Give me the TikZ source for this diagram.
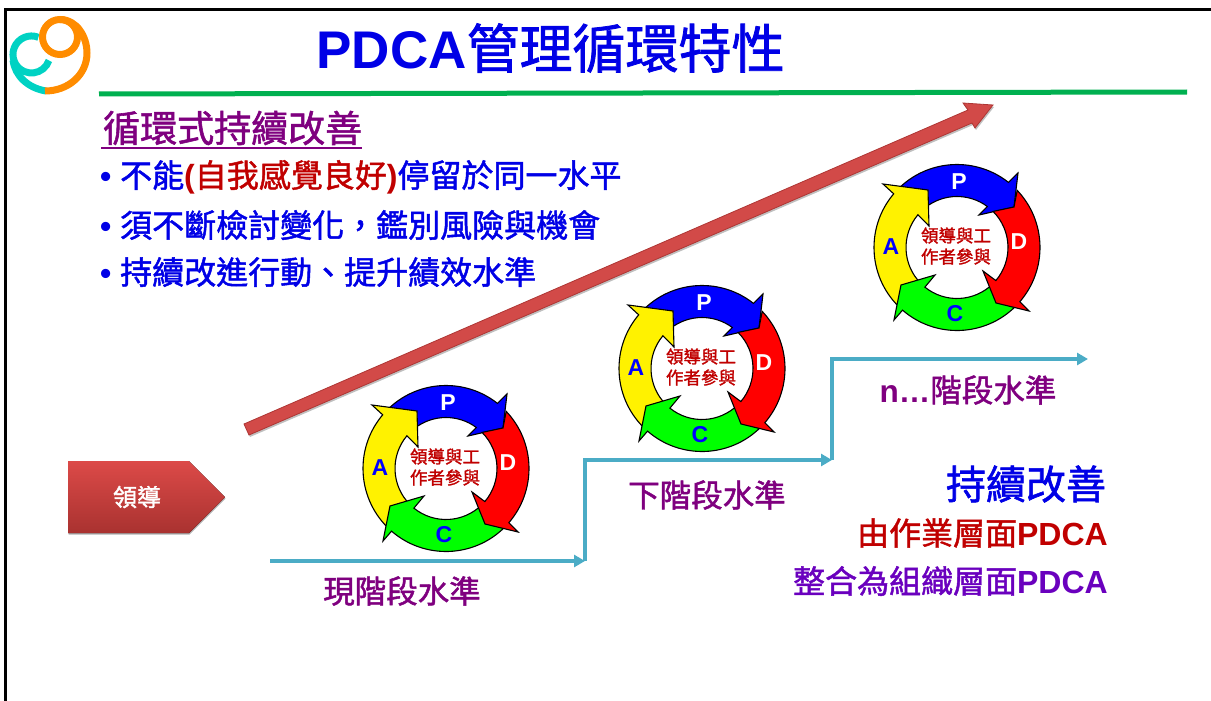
\documentclass[tikz,border=0pt]{standalone}
\usepackage{fontspec}
\setmainfont{Liberation Sans}
\newfontfamily\tcfont[FakeBold=1.5]{Noto Sans CJK TC}
\usetikzlibrary{arrows.meta,shadows}
\definecolor{titleblue}{HTML}{0000E6}
\definecolor{plum}{HTML}{7F007F}
\definecolor{darkred}{HTML}{C00000}
\definecolor{violet}{HTML}{6A00BE}
\definecolor{stepblue}{HTML}{4BACC6}
\definecolor{rulegreen}{HTML}{00B050}
\definecolor{logoteal}{HTML}{00D2C3}
\definecolor{logoorange}{HTML}{FF8C00}
\definecolor{boxtop}{HTML}{DC4A48}
\definecolor{boxbottom}{HTML}{A93230}
\definecolor{arrowred}{HTML}{D24A48}
\definecolor{arrowedge}{HTML}{AE3634}
\tikzset{
  ringpart/.style={draw=black, line width=1.1pt, line join=miter},
  ringletter/.style={font=\fontsize{23}{23}\selectfont\bfseries, inner sep=0pt},
  ringtext/.style={font=\fontsize{17.5}{21}\selectfont\tcfont, text=darkred, align=center, inner sep=0pt},
  stepline/.style={stepblue, line width=3.6pt, -{Triangle[length=11pt,width=12pt]}},
  levellabel/.style={font=\fontsize{31.5}{32}\selectfont\bfseries, text=plum, inner sep=0pt},
  bulletline/.style={font=\fontsize{32}{32}\selectfont\tcfont, text=titleblue, anchor=west, inner sep=0pt},
  logoline/.style={line width=7pt}
}
\newcommand{\bulletmark}{\makebox[20pt][l]{\rmfamily\bfseries •}}
\newcommand{\boldparen}[1]{{\rmfamily\bfseries #1}}
\begin{document}
\begin{tikzpicture}[x=1pt,y=-1pt]
  \useasboundingbox (0,0) rectangle (1211,701);
  \draw[black, line width=2.6pt] (5.5,701) -- (5.5,9.5) -- (1211,9.5);

  % logo
  \draw[logoteal, logoline] (38.4,37.3) arc[start angle=-68, end angle=-341, radius=18.5];
  \draw[logoteal, logoline] (13,60) .. controls (15,76) and (28,88) .. (46,91);
  \draw[logoorange, logoline] (60,37) circle [radius=17.5];
  \draw[logoorange, logoline] (60,19.5) .. controls (77,19.5) and (87,37) .. (87,53) .. controls (87,75) and (68,91) .. (45,91);

  % heading
  \node[font=\fontsize{53}{53}\selectfont\bfseries, text=titleblue, inner sep=0pt] (title) at (550.5,48) {PDCA{\mdseries\tcfont 管理循環特性}};
  \draw[rulegreen, line width=5pt] (99,94) -- (1187,92);
  \node[font=\fontsize{37}{37}\selectfont\tcfont, text=plum, inner sep=0pt, anchor=west] (subtitle) at (103,128) {循環式持續改善};
  \draw[plum, line width=2pt] (101,148) -- (362,148);

  \node[bulletline] (lineone) at (100,177) {\bulletmark 不能{\color{darkred}\boldparen{(}自我感覺良好\boldparen{)}}停留於同一水平};
  \node[bulletline] (linetwo) at (100,225) {\bulletmark 須不斷檢討變化，鑑別風險與機會};
  \node[bulletline] (linethree) at (100,272) {\bulletmark 持續改進行動、提升績效水準};

  % big arrow
  \filldraw[fill=arrowred, draw=arrowedge, line width=.8pt,
        drop shadow={shadow xshift=1pt, shadow yshift=-2pt, fill=black, opacity=.25}]
    (244,424) -- (968,110) -- (963,103) -- (993,105) -- (975,128) -- (972,123) -- (249,435) -- cycle;

  % leader box
  \fill[top color=boxtop, bottom color=boxbottom,
        drop shadow={shadow xshift=.5pt, shadow yshift=-1.5pt, fill=black, opacity=.3}]
    (68,461) -- (189,461) -- (225,497) -- (189,533) -- (68,533) -- cycle;
  \node[font=\fontsize{24}{24}\selectfont\tcfont, text=white, inner sep=0pt] (leader) at (137,497) {領導};

  % steps
  \coordinate (stepa) at (270,561);
  \coordinate (stepb) at (585,561);
  \coordinate (stepc) at (585,460);
  \coordinate (stepd) at (832,460);
  \coordinate (stepe) at (832,359);
  \coordinate (stepf) at (1088,359);
  \draw[stepline] (stepa) -- (stepb);
  \draw[stepline] (stepb) -- (stepc) -- (stepd);
  \draw[stepline] (stepd) -- (stepe) -- (stepf);
  \node[levellabel] (levelnow) at (402,591) {\mdseries\tcfont 現階段水準};
  \node[levellabel] (levelnext) at (707,495) {\mdseries\tcfont 下階段水準};
  \node[levellabel] (leveln) at (968,390) {n…{\mdseries\tcfont 階段水準}};

  % three rings
  \foreach \cx/\cy/\n in {446/468.5/a, 702/368.5/b, 957/247.5/c} {
    \begin{scope}[shift={(\cx,\cy)}, y=1pt]
      \draw[ringpart, fill=blue] (132.3:83) arc[start angle=132.3, end angle=51.7, radius=83]
        -- (61,74.5) -- (57,40.5) -- (22,32.5) -- (53.5:51) arc[start angle=53.5, end angle=128, radius=51] -- cycle;
      \draw[ringpart, fill=yellow] (225:83) arc[start angle=225, end angle=139.7, radius=83]
        -- (-74,63.5) -- (-29,57.5) -- (-28,21.5) -- (140:51) arc[start angle=140, end angle=225, radius=51] -- cycle;
      \draw[ringpart, fill=green] (-45:83) arc[start angle=-45, end angle=-131, radius=83]
        -- (-63,-72.5) -- (-56,-37.5) -- (-22,-27.5) -- (-129:51) arc[start angle=-129, end angle=-45, radius=51] -- cycle;
      \draw[ringpart, fill=red] (43.5:83) arc[start angle=43.5, end angle=-40.8, radius=83]
        -- (72,-63.5) -- (39,-55.5) -- (26,-23.5) -- (-40.4:51) arc[start angle=-40.4, end angle=45, radius=51] -- (57,40.5) -- cycle;
      \node[ringletter, text=white] (p\n) at (2,65.5) {P};
      \node[ringletter, text=white] (d\n) at (62,5.5) {D};
      \node[ringletter, text=blue] (c\n) at (-2,-66.5) {C};
      \node[ringletter, text=blue] (a\n) at (-66,0.5) {A};
      \node[ringtext] (t\n) at (-1,1.5) {領導與工\\作者參與};
    \end{scope}
  }

  % right side text
  \node[font=\fontsize{40}{40}\selectfont\tcfont, text=titleblue, inner sep=0pt] (improve) at (1026,484) {持續改善};
  \node[font=\fontsize{32}{32}\selectfont\bfseries, text=darkred, inner sep=0pt, anchor=east] (oplevel) at (1108,533) {{\mdseries\tcfont 由作業層面}PDCA};
  \node[font=\fontsize{32}{32}\selectfont\bfseries, text=violet, inner sep=0pt, anchor=east] (orglevel) at (1108,581) {{\mdseries\tcfont 整合為組織層面}PDCA};
\end{tikzpicture}
\end{document}
